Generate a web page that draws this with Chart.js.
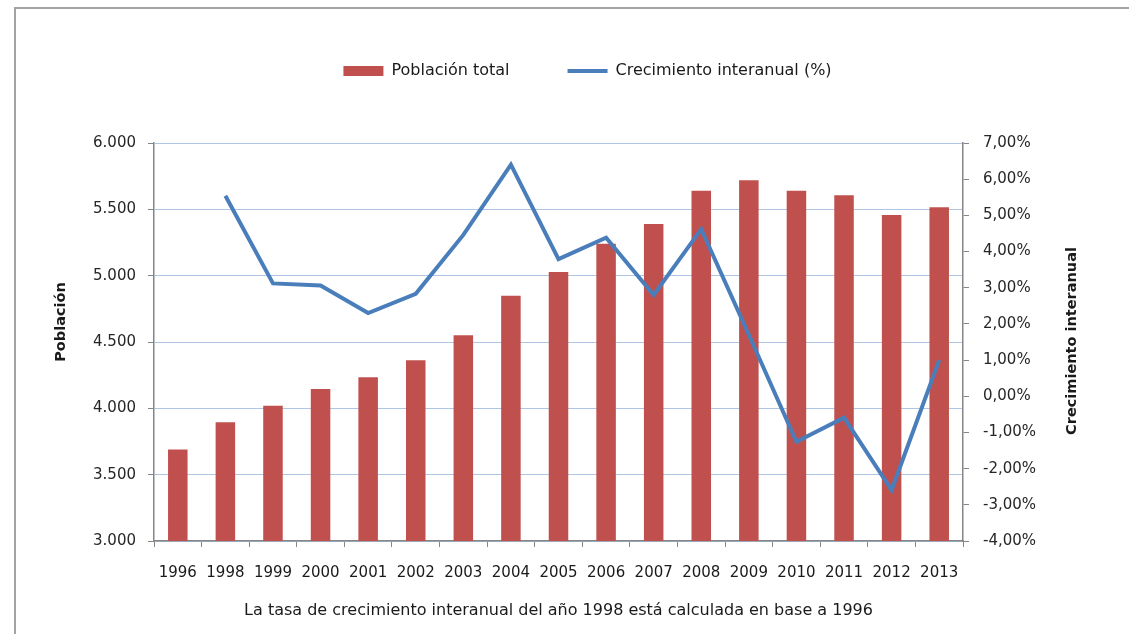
<!DOCTYPE html>
<html>
<head>
<meta charset="utf-8">
<script src="https://cdn.jsdelivr.net/npm/chart.js@4"></script>
<style>
  html, body { margin: 0; padding: 0; background: #fff; }
  #wrap { width: 1129px; height: 634px; position: relative; }
</style>
</head>
<body>
<div id="wrap"><canvas id="chart"></canvas></div>
<script>
const years = ['1996', '1998', '1999', '2000', '2001', '2002', '2003', '2004', '2005',
  '2006', '2007', '2008', '2009', '2010', '2011', '2012', '2013'];
const poblacion = [3690, 3895, 4020, 4146, 4234, 4362, 4550, 4849, 5028,
  5241, 5389, 5640, 5719, 5640, 5606, 5457, 5515];
const crecimiento = [null, 5.54, 3.12, 3.06, 2.30, 2.83, 4.46, 6.40, 3.79,
  4.38, 2.80, 4.62, 1.70, -1.26, -0.59, -2.59, 1.00];

const leftTitle = 'Población';
const rightTitle = 'Crecimiento interanual';
const bottomTitle = 'La tasa de crecimiento interanual del año 1998 está calculada en base a 1996';

Chart.defaults.font.family = 'DejaVu Sans';
Chart.defaults.font.size = 15;
Chart.defaults.color = '#262626';

const gray = '#868686';

// frame, extra room under the legend, rotated axis titles (bottom-to-top)
const extras = {
  id: 'extras',
  beforeLayout(chart) {
    const lg = chart.legend;
    if (lg && !lg._roomy) {
      const fit = lg.fit;
      lg.fit = function () {
        fit.call(this);
        this.height += 54;
      };
      lg._roomy = true;
    }
  },
  beforeDraw(chart) {
    const ctx = chart.ctx;
    ctx.save();
    ctx.strokeStyle = '#a3a3a3';
    ctx.lineWidth = 2;
    ctx.beginPath();
    ctx.moveTo(15, 634);
    ctx.lineTo(15, 8);
    ctx.lineTo(1129, 8);
    ctx.stroke();
    ctx.restore();
  },
  afterDraw(chart) {
    const ctx = chart.ctx;
    const titles = [[leftTitle, 61, 322], [rightTitle, 1072, 341]];
    titles.forEach(([txt, x, y]) => {
      ctx.save();
      ctx.fillStyle = '#1a1a1a';
      ctx.font = 'bold 14.5px "DejaVu Sans"';
      ctx.textAlign = 'center';
      ctx.textBaseline = 'middle';
      ctx.translate(x, y);
      ctx.rotate(-Math.PI / 2);
      ctx.fillText(txt, 0, 0);
      ctx.restore();
    });
  }
};

new Chart(document.getElementById('chart'), {
  type: 'bar',
  data: {
    labels: years,
    datasets: [
      {
        type: 'bar',
        label: 'Población total',
        data: poblacion,
        backgroundColor: '#C0504D',
        borderWidth: 0,
        barPercentage: 0.41,
        categoryPercentage: 1,
        yAxisID: 'y',
        pointStyle: 'rect',
        order: 1
      },
      {
        type: 'line',
        label: 'Crecimiento interanual (%)',
        data: crecimiento,
        borderColor: '#4A7EBB',
        backgroundColor: '#4A7EBB',
        borderWidth: 4,
        pointRadius: 0,
        pointStyle: 'line',
        tension: 0,
        yAxisID: 'y1',
        order: 0
      }
    ]
  },
  options: {
    responsive: true,
    maintainAspectRatio: false,
    animation: false,
    layout: { padding: { top: 5, left: 46, right: 0, bottom: 0 } },
    plugins: {
      tooltip: { enabled: false },
      legend: {
        position: 'top',
        labels: {
          usePointStyle: true,
          pointStyleWidth: 40,
          boxHeight: 10,
          padding: 58,
          font: { size: 16 },
          color: '#1a1a1a',
          sort: (a, b) => a.datasetIndex - b.datasetIndex
        }
      }
    },
    scales: {
      x: {
        afterFit(scale) { scale.height = 93; },
        grid: { drawOnChartArea: false, tickLength: 6, color: gray, tickColor: gray },
        border: { color: gray, width: 1.5 },
        ticks: { padding: 17, maxRotation: 0, autoSkip: false, color: '#1a1a1a' },
        title: {
          display: true,
          text: bottomTitle,
          font: { size: 16 },
          padding: { top: 0, bottom: 14 },
          color: '#1a1a1a'
        }
      },
      y: {
        position: 'left',
        min: 3000,
        max: 6000,
        afterFit(scale) { scale.width = 108; },
        ticks: {
          stepSize: 500,
          padding: 12,
          callback: v => v.toLocaleString('de-DE')
        },
        grid: { color: '#AFC5E6', lineWidth: 1, tickLength: 6, tickColor: gray },
        border: { color: gray, width: 1.5 }
      },
      y1: {
        position: 'right',
        min: -4,
        max: 7,
        afterFit(scale) { scale.width = 166; },
        ticks: {
          stepSize: 1,
          padding: 14,
          callback: v => v.toFixed(2).replace('.', ',') + '%'
        },
        grid: { drawOnChartArea: false, tickLength: 6, tickColor: gray },
        border: { color: gray, width: 1.5 }
      }
    }
  },
  plugins: [extras]
});
</script>
</body>
</html>
